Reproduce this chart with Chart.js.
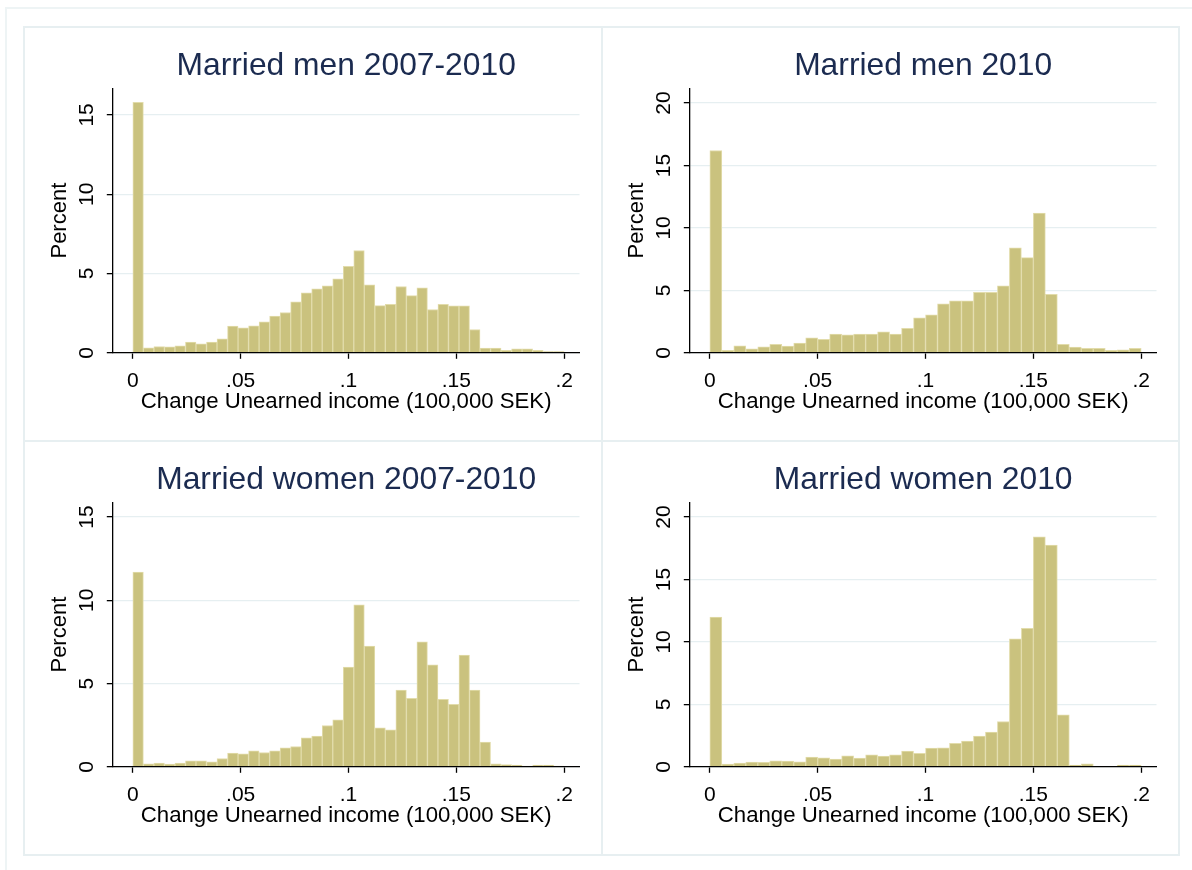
<!DOCTYPE html>
<html>
<head>
<meta charset="utf-8">
<script src="https://cdn.jsdelivr.net/npm/chart.js@4.4.1/dist/chart.umd.min.js"></script>
<style>
  html, body { margin: 0; padding: 0; background: #ffffff; }
  body { width: 1192px; height: 870px; position: relative; overflow: hidden; }
  canvas { position: absolute; }
  .ln { position: absolute; background: #e7eff1; z-index: 5; }
  .outer { position: absolute; left: 5px; top: 7px; width: 1200px; height: 900px; border: 2px solid #eef4f5; box-sizing: border-box; }
</style>
</head>
<body>
<div class="outer"></div>
<canvas id="c1" width="578" height="414" style="left:24px;top:27px"></canvas>
<canvas id="c2" width="578" height="414" style="left:601px;top:27px"></canvas>
<canvas id="c3" width="578" height="414" style="left:24px;top:441px"></canvas>
<canvas id="c4" width="578" height="414" style="left:601px;top:441px"></canvas>
<!-- panel frame lines -->
<div class="ln" style="left:23px;top:26px;width:1157px;height:2px"></div>
<div class="ln" style="left:23px;top:440px;width:1157px;height:2px"></div>
<div class="ln" style="left:23px;top:854px;width:1157px;height:2px"></div>
<div class="ln" style="left:23px;top:26px;width:2px;height:830px"></div>
<div class="ln" style="left:600.5px;top:26px;width:2px;height:830px"></div>
<div class="ln" style="left:1178px;top:26px;width:2px;height:830px"></div>
<script>
// ---------------- data ----------------
const titles = ['Married men 2007-2010', 'Married men 2010', 'Married women 2007-2010', 'Married women 2010'];
const xAxisTitle = 'Change Unearned income (100,000 SEK)';
const yAxisTitle = 'Percent';

const xTickValues = [0, 0.05, 0.1, 0.15, 0.2];
const xTickLabels = ['0', '.05', '.1', '.15', '.2'];
const xMin = -0.0093;
const xMax = 0.2071;

const yTicksA = [0, 5, 10, 15];
const yTickLabelsA = ['0', '5', '10', '15'];
const yTicksB = [0, 5, 10, 15, 20];
const yTickLabelsB = ['0', '5', '10', '15', '20'];

// histogram bin widths (bins start at 0)
const binWidth41 = 0.2 / 41;
const binWidth36 = 0.2 / 36;

// Married men 2007-2010 (41 bins)
const menChange = [15.8, 0.32, 0.40, 0.38, 0.44, 0.67, 0.57, 0.67, 0.88, 1.68,
  1.58, 1.70, 1.95, 2.31, 2.54, 3.21, 3.78, 4.03, 4.22, 4.66,
  5.46, 6.45, 4.29, 2.98, 3.05, 4.18, 3.61, 4.10, 2.73, 3.05,
  2.96, 2.96, 1.47, 0.29, 0.29, 0.15, 0.25, 0.25, 0.15, 0.08, 0.08];

// Married men 2010 (36 bins)
const men2010 = [16.2, 0.19, 0.56, 0.32, 0.48, 0.67, 0.53, 0.78, 1.20, 1.07,
  1.50, 1.44, 1.50, 1.50, 1.68, 1.50, 1.95, 2.81, 3.05, 3.93,
  4.17, 4.17, 4.84, 4.84, 5.37, 8.40, 7.62, 11.18, 4.68, 0.67,
  0.45, 0.35, 0.35, 0.19, 0.24, 0.35];

// Married women 2007-2010 (41 bins)
const womenChange = [11.7, 0.18, 0.22, 0.16, 0.22, 0.36, 0.36, 0.30, 0.50, 0.82,
  0.78, 0.96, 0.86, 0.96, 1.14, 1.22, 1.74, 1.84, 2.48, 2.82,
  5.99, 9.73, 7.25, 2.34, 2.22, 4.61, 4.11, 7.51, 6.13, 4.05,
  3.75, 6.71, 4.61, 1.48, 0.18, 0.14, 0.10, 0.04, 0.10, 0.10, 0.04];

// Married women 2010 (36 bins)
const women2010 = [11.99, 0.21, 0.29, 0.37, 0.35, 0.48, 0.45, 0.40, 0.77, 0.72,
  0.61, 0.88, 0.69, 0.96, 0.85, 0.96, 1.25, 1.07, 1.50, 1.52,
  1.87, 2.06, 2.46, 2.78, 3.63, 10.25, 11.08, 18.42, 17.76, 4.17,
  0.13, 0.24, 0.05, 0.05, 0.13, 0.13];

const yMaxes = [16.67, 21.17, 15.88, 21.17];

// ---------------- chart ----------------
Chart.defaults.font.family = '"Liberation Sans", Arial, Helvetica, sans-serif';

function histPoints(values, width) {
  return values.map((v, i) => ({ x: (i + 0.5) * width, y: v }));
}

function makeChart(id, title, values, width, yTicks, yLabels, yMax) {
  const ctx = document.getElementById(id);
  return new Chart(ctx, {
    type: 'bar',
    data: {
      datasets: [{
        data: histPoints(values, width),
        backgroundColor: '#cac27e',
        borderColor: '#e2dcab',
        borderWidth: 1,
        categoryPercentage: 1.0,
        barPercentage: 1.0
      }]
    },
    options: {
      responsive: false,
      animation: false,
      devicePixelRatio: 1,
      layout: { padding: { left: 0, right: 22.5, top: 0, bottom: 0 } },
      plugins: {
        legend: { display: false },
        tooltip: { enabled: false },
        title: {
          display: true,
          text: title,
          fullSize: false,
          color: '#1b2b50',
          font: { size: 31.8, weight: 'normal' },
          padding: { top: 20.6, bottom: 2.7 }
        }
      },
      scales: {
        x: {
          type: 'linear',
          min: xMin,
          max: xMax,
          offset: false,
          afterBuildTicks: s => { s.ticks = xTickValues.map(v => ({ value: v })); },
          afterFit: s => { s.height = 88.2; },
          ticks: {
            callback: (v, i) => xTickLabels[i],
            autoSkip: false, maxRotation: 0, minRotation: 0,
            padding: 10.1, color: '#000', font: { size: 21 }
          },
          grid: { display: true, drawOnChartArea: false, offset: false,
                  tickColor: '#000', tickLength: 6, tickWidth: 1.3 },
          border: { display: true, color: '#000', width: 1.3, z: 1 },
          title: { display: true, text: xAxisTitle, color: '#000',
                   font: { size: 22.2 }, padding: { top: 0, bottom: 26.1 } }
        },
        y: {
          type: 'linear',
          min: 0,
          max: yMax,
          afterBuildTicks: s => { s.ticks = yTicks.map(v => ({ value: v })); },
          afterFit: s => { s.width = 88.8; },
          ticks: {
            callback: (v, i) => yLabels[i],
            minRotation: 90, maxRotation: 90, crossAlign: 'center',
            padding: 8, color: '#000', font: { size: 21 }
          },
          grid: { color: '#e6eff1', lineWidth: 1.3, tickColor: '#000',
                  tickLength: 6, tickWidth: 1.3 },
          border: { display: true, color: '#000', width: 1.3, z: 1 },
          title: { display: true, text: yAxisTitle, color: '#000',
                   font: { size: 22 }, padding: { top: 22.8, bottom: 0 } }
        }
      }
    }
  });
}

makeChart('c1', titles[0], menChange, binWidth41, yTicksA, yTickLabelsA, yMaxes[0]);
makeChart('c2', titles[1], men2010, binWidth36, yTicksB, yTickLabelsB, yMaxes[1]);
makeChart('c3', titles[2], womenChange, binWidth41, yTicksA, yTickLabelsA, yMaxes[2]);
makeChart('c4', titles[3], women2010, binWidth36, yTicksB, yTickLabelsB, yMaxes[3]);
</script>
</body>
</html>
